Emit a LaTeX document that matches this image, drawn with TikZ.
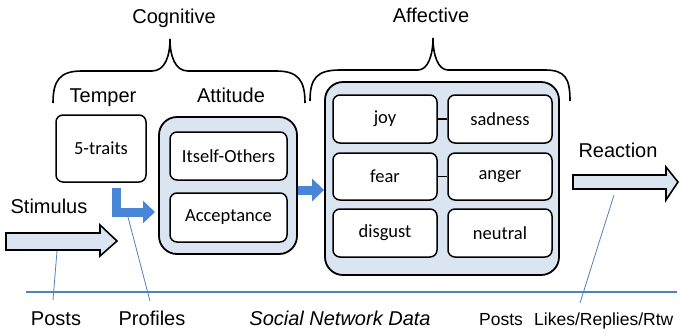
\documentclass[tikz,border=0pt]{standalone}
\usepackage{fontspec}
\setmainfont{Liberation Sans}
\newfontfamily\calibri{Carlito}
\usetikzlibrary{arrows.meta, positioning}
\definecolor{boxblue}{HTML}{DBE5F1}
\definecolor{arrowblue}{HTML}{4A86D8}
\definecolor{lineblue}{HTML}{4F81BD}

\begin{document}
\begin{tikzpicture}[x=1pt, y=-1pt,
    lbl/.style={font=\fontsize{20}{24}\selectfont, anchor=base, inner sep=0pt},
    lblsmall/.style={font=\fontsize{17.5}{21}\selectfont, anchor=base, inner sep=0pt},
    inbox/.style={draw=black, line width=1.5pt, rounded corners=7pt, fill=white,
        font=\calibri\fontsize{18.5}{22}\selectfont, minimum width=104pt,
        minimum height=48pt, inner sep=0pt},
    outbox/.style={draw=black, line width=1.8pt, rounded corners=18pt,
        fill=boxblue, inner sep=0pt},
    blockarrow/.style={draw=black, line width=1.6pt, fill=boxblue, line join=miter},
    bluearrow/.style={draw=arrowblue, line width=9pt,
        -{Triangle[width=22pt, length=12pt]}},
    leader/.style={draw=lineblue, line width=0.8pt},
    brace/.style={draw=black, line width=1.6pt}]

        \useasboundingbox (0,0) rectangle (680,335);

        % headings and braces
        \node[lbl] (cognitive) at (174,23) {Cognitive};
        \node[lbl] (affectlbl) at (431,22) {Affective};
        \draw[brace] (53,103) .. controls (53,80) and (60,71) .. (82,71) -- (152,71)
            .. controls (165,71) and (170,56) .. (170,39)
            .. controls (170,56) and (175,71) .. (188,71) -- (276,71)
            .. controls (298,71) and (305,80) .. (305,103);
        \draw[brace] (310,101) .. controls (310,78) and (317,70) .. (340,70) -- (418,70)
            .. controls (428,70) and (433,55) .. (433,38)
            .. controls (433,55) and (438,70) .. (448,70) -- (545,70)
            .. controls (565,70) and (570,78) .. (570,101);

        \node[lbl] (temper) at (103,102) {Temper};
        \node[lbl] (attlbl) at (231,102) {Attitude};

        % cognitive part
        \node[inbox, minimum width=90pt, minimum height=67pt] (traits) at (101,148.5) {5-traits};
        \node[outbox, minimum width=138pt, minimum height=137pt] (attitude) at (228,185.5) {};
        \node[inbox, minimum width=117pt] (itself) at (228.5,156) {Itself-Others};
        \node[inbox, minimum width=117pt, minimum height=49pt] (accept) at (228.5,217.5) {Acceptance};

        % affective part
        \node[outbox, minimum width=234pt, minimum height=193pt] (affective) at (442,178.5) {};
        \node[inbox] (joy)     at (385,119)   {joy};
        \node[inbox] (sadness) at (500,119)   {sadness};
        \node[inbox, minimum height=47pt] (fear)  at (385,176.5) {fear};
        \node[inbox, minimum height=47pt] (anger) at (500,176.5) {anger};
        \node[inbox] (disgust) at (385,233)   {disgust};
        \node[inbox] (neutral) at (500,233)   {neutral};
        \draw[line width=1.5pt] (joy) -- (sadness);
        \draw[line width=1.5pt] (fear) -- (anger);

        % blue arrows
        \coordinate (bendin) at (155,212);
        \draw[bluearrow] ([xshift=15pt, yshift=-5pt]traits.south) |- (bendin);
        \draw[bluearrow] ([yshift=-4.5pt]attitude.east) -- ([yshift=-4.5pt]attitude.east -| affective.west);

        % stimulus and reaction
        \node[lbl] (stimulus) at (49,213) {Stimulus};
        \draw[blockarrow] (6,233) -- (100,233) -- (100,225) -- (117,241)
            -- (100,256) -- (100,250) -- (6,250) -- cycle;
        \node[lbl] (reaction) at (618,157) {Reaction};
        \draw[blockarrow] (573,175) -- (666,175) -- (666,167) -- (678,182)
            -- (666,200) -- (666,189) -- (573,189) -- cycle;

        % social network data
        \coordinate (sndleft) at (26,292);
        \coordinate (sndright) at (677,292);
        \draw[leader, line width=1.2pt] (sndleft) -- (sndright);

        \node[lbl] (posts) at (56,325) {Posts};
        \node[lbl] (profiles) at (152,325) {Profiles};
        \node[lbl, font=\fontsize{20}{24}\selectfont\itshape] (snd) at (340,325) {Social Network Data};
        \node[lblsmall] (reposts) at (501,325) {Posts};
        \node[lblsmall, anchor=base west] (likes) at (534,325) {Likes/Replies/Rtw};

        \coordinate (stimfoot) at (57,251);
        \coordinate (postsfoot) at (53,300);
        \coordinate (profhead) at (128,217);
        \coordinate (proffoot) at (150,301);
        \coordinate (reacfoot) at (614,195);
        \coordinate (likesfoot) at (580,303);
        \draw[leader] (stimfoot) -- (postsfoot);
        \draw[leader] (profhead) -- (proffoot);
        \draw[leader] (reacfoot) -- (likesfoot);

    \end{tikzpicture}
\end{document}
